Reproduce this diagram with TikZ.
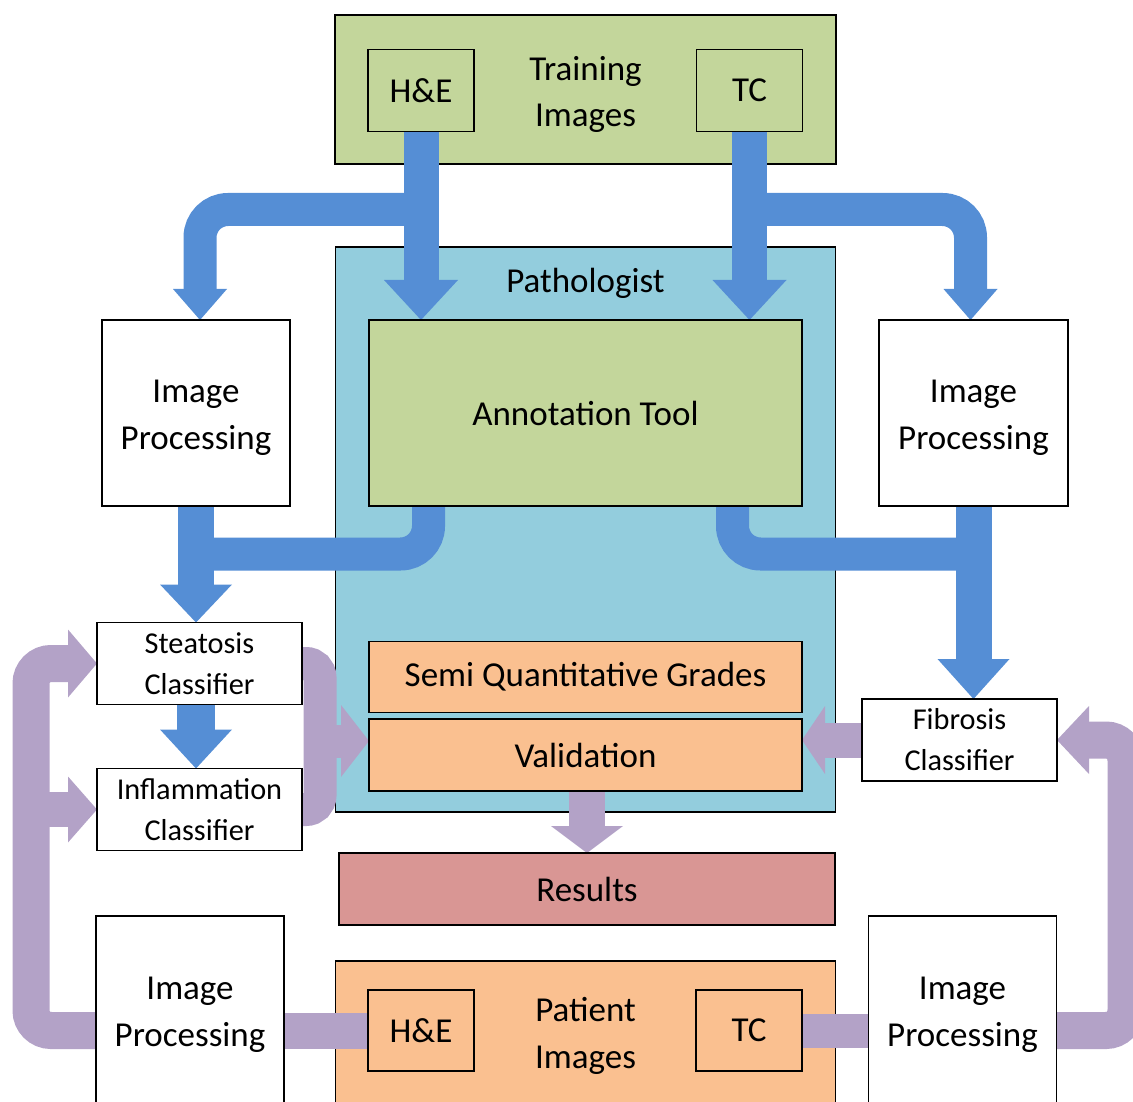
\documentclass[tikz,border=0pt]{standalone}
\usepackage{fontspec}
\setmainfont{Carlito}
\usetikzlibrary{calc}
\definecolor{grn}{HTML}{C3D69B}
\definecolor{sky}{HTML}{93CDDD}
\definecolor{org}{HTML}{FAC090}
\definecolor{rst}{HTML}{D99694}
\definecolor{arrb}{HTML}{558ED5}
\definecolor{arrp}{HTML}{B3A2C7}
\newcommand{\dnhead}[4]{\fill[#1] (#2) -- ++(-#3,-#4) -- ++(2*#3,0) -- cycle;}
\newcommand{\rthead}[4]{\fill[#1] (#2) -- ++(-#4,-#3) -- ++(0,2*#3) -- cycle;}
\newcommand{\lthead}[4]{\fill[#1] (#2) -- ++(#4,-#3) -- ++(0,2*#3) -- cycle;}
\tikzset{
  bd/.style={draw=black, line width=1.8pt},
  box/.style={bd, rectangle, inner sep=0pt, outer sep=0pt, align=center, font=\fontsize{35}{46.5}\selectfont},
  cls/.style={box, fill=white, font=\fontsize{30.3}{41}\selectfont},
  lbl/.style={inner sep=0pt, outer sep=0pt, align=center, font=\fontsize{35}{46.5}\selectfont},
  bsh/.style={draw=arrb, line width=35pt},
  psh/.style={draw=arrp, line width=37pt},
}
\begin{document}
\begin{tikzpicture}[x=1pt,y=-1pt]
\useasboundingbox (0,0) rectangle (1133,1102);
\clip (0,0) rectangle (1133,1102);
% containers
\node[box, fill=grn, minimum width=501pt, minimum height=149pt] (train) at (585.5,89.5) {};
\node[lbl] (traint) at ($(train)+(0,5)$) {Training\\Images};
\node[box, fill=sky, minimum width=500pt, minimum height=565pt] (path) at (585.5,529.5) {};
\node[lbl] (pathl) at (585.5,283) {Pathologist};
\node[box, fill=grn, minimum width=433pt, minimum height=186pt] (annot) at (585.5,413) {Annotation Tool};
\node[box, fill=org, minimum width=433pt, minimum height=71pt] (sqg) at (585.5,677) {Semi Quantitative Grades};
\node[box, fill=org, minimum width=433pt, minimum height=72pt] (valid) at (585.5,755) {Validation};
\node[box, fill=rst, minimum width=496pt, minimum height=72pt] (results) at (587,889) {Results};
\node[box, fill=org, minimum width=500pt, minimum height=144pt] (patient) at (585.5,1033) {};
\node[lbl] (patientt) at ($(patient)+(0,3)$) {Patient\\Images};
% image boxes
\node[box, fill=grn, minimum width=106pt, minimum height=82pt] (he1) at (421,90.5) {H\&E};
\node[box, fill=grn, minimum width=106pt, minimum height=82pt] (tc1) at (749.5,90.5) {TC};
\node[box, fill=org, minimum width=106pt, minimum height=81pt] (he2) at (421,1030.5) {H\&E};
\node[box, fill=org, minimum width=106pt, minimum height=81pt] (tc2) at (749,1030.5) {TC};
% processing
\node[box, fill=white, minimum width=188pt, minimum height=186pt] (ipTL) at (196,413) {};
\node[lbl] (ipTLt) at ($(ipTL)+(0,5)$) {Image\\Processing};
\node[box, fill=white, minimum width=189pt, minimum height=186pt] (ipTR) at (973.5,413) {};
\node[lbl] (ipTRt) at ($(ipTR)+(0,5)$) {Image\\Processing};
\node[box, fill=white, minimum width=188pt, minimum height=190pt] (ipBL) at (190,1011) {};
\node[lbl] (ipBLt) at ($(ipBL)+(0,4)$) {Image\\Processing};
\node[box, fill=white, minimum width=188pt, minimum height=190pt] (ipBR) at (962.5,1011) {};
\node[lbl] (ipBRt) at ($(ipBR)+(0,4)$) {Image\\Processing};
% classifiers
\node[cls, minimum width=205pt, minimum height=82pt] (steat) at (199.5,663.5) {Steatosis\\Classifier};
\node[cls, minimum width=205pt, minimum height=82pt] (infl) at (199.5,809.5) {Inflammation\\Classifier};
\node[cls, minimum width=195pt, minimum height=82pt] (fib) at (959.5,740) {Fibrosis\\Classifier};

% blue arrows
\draw[bsh] (he1.south) -- ($(he1.south |- annot.north)+(0,-39)$);
\dnhead{arrb}{he1.south |- annot.north}{37}{40}
\draw[bsh, line width=33pt, rounded corners=28pt] ($(he1.south)+(0,78)$) -| ($(ipTL.north)+(4,-30)$);
\dnhead{arrb}{$(ipTL.north)+(4,0)$}{27}{31}
\draw[bsh] (tc1.south) -- ($(tc1.south |- annot.north)+(0,-39)$);
\dnhead{arrb}{tc1.south |- annot.north}{37}{40}
\draw[bsh, line width=33pt, rounded corners=28pt] ($(tc1.south)+(0,78)$) -| ($(ipTR.north)+(-3,-30)$);
\dnhead{arrb}{$(ipTR.north)+(-3,0)$}{27}{31}

\draw[bsh, line width=36pt] (ipTL.south) -- ($(ipTL.south |- steat.north)+(0,-37)$);
\dnhead{arrb}{ipTL.south |- steat.north}{36}{38}
\draw[bsh, line width=33pt, rounded corners=28pt] ($(annot.south)+(-157,0)$) |- ($(ipTL.south)+(0,48)$);
\draw[bsh, line width=36pt] (ipTR.south) -- ($(ipTR.south |- fib.north)+(0,-39)$);
\dnhead{arrb}{ipTR.south |- fib.north}{36}{40}
\draw[bsh, line width=33pt, rounded corners=28pt] ($(annot.south)+(147,0)$) |- ($(ipTR.south)+(0,48)$);

\draw[bsh, line width=38pt] (ipTL.south |- steat.south) -- ($(ipTL.south |- infl.north)+(0,-38)$);
\dnhead{arrb}{ipTL.south |- infl.north}{36}{39}

% purple arrows
\draw[psh, rounded corners=20pt] (ipBL.west |- he2.west) -| ($(steat.west)+(-66,0)$) -- ($(steat.west)+(-28,0)$);
\rthead{arrp}{steat.west}{34}{29}
\draw[psh, line width=35pt] ($(infl.west)+(-66,0)$) -- ($(infl.west)+(-28,0)$);
\rthead{arrp}{infl.west}{33}{29}

\draw[draw=arrp, line width=33pt, rounded corners=14pt] ($(steat.east)+(1,0)$) -- ++(17,0) |- ($(infl.east)+(1,0)$);
\draw[psh, line width=33pt] ($(valid.west)+(-52,-14)$) -- ($(valid.west)+(-27,-14)$);
\rthead{arrp}{$(valid.west)+(0,-14)$}{36}{28}

\draw[psh, line width=35pt] (fib.west) -- ($(valid.east |- fib.west)+(22,0)$);
\lthead{arrp}{valid.east |- fib.west}{34}{23}

\draw[psh, line width=36pt] (results.north |- valid.south) -- ($(results.north)+(0,-26)$);
\dnhead{arrp}{results.north}{36}{27}

\draw[psh, rounded corners=20pt] (ipBR.east |- tc2.east) -| ($(fib.east)+(69,0)$) -- ($(fib.east)+(31,0)$);
\lthead{arrp}{fib.east}{34}{32}

\draw[psh, line width=36pt] (ipBL.east |- he2.west) -- (he2.west);
\draw[psh, line width=34pt] (tc2.east) -- (ipBR.west |- tc2.east);

% restore borders of end boxes
\foreach \n in {he1,tc1,annot,ipTL,ipTR,steat,infl,fib,valid,results,ipBL,ipBR,he2,tc2}
  \draw[bd] (\n.north west) rectangle (\n.south east);
\end{tikzpicture}
\end{document}
